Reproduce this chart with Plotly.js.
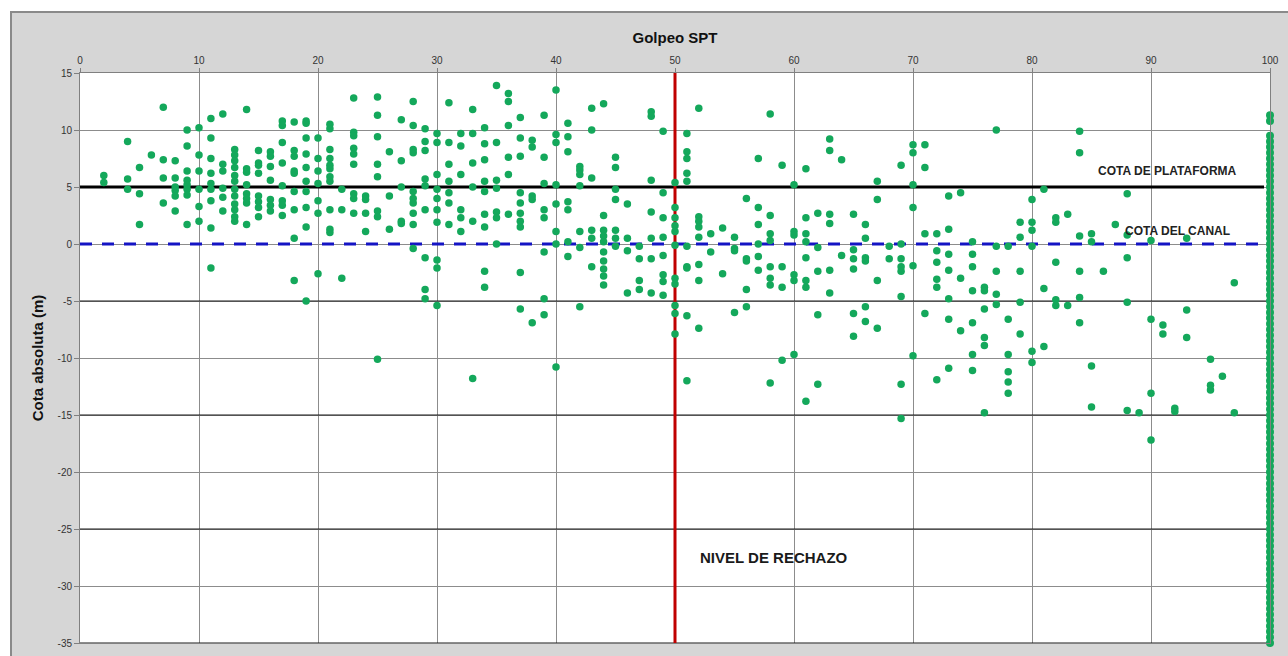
<!DOCTYPE html>
<html>
<head>
<meta charset="utf-8">
<script src="https://cdn.plot.ly/plotly-3.0.1.min.js"></script>
<style>
  html, body { margin:0; padding:0; background:#ffffff; overflow:hidden; }
  #frame { position:absolute; left:10px; top:11px; width:1278px; height:645px;
           background:#d6d6d6; border-left:2px solid #8a8a8a; border-top:2px solid #8a8a8a;
           box-sizing:border-box; }
  #chart { width:1276px; height:643px; }
</style>
</head>
<body>
<div id="frame"><div id="chart"></div></div>
<script>
// Golpeo SPT (x) and cota absoluta in m (y) of each sample, column by column
const golpeo = [
 2,2,
 4,4,4,
 5,5,5,
 6,
 7,7,7,7,
 8,8,8,8,8,8,
 9,9,9,9,9,9,9,9,
 10,10,10,10,10,10,
 11,11,11,11,11,11,11,11,11,
 12,12,12,12,12,12,
 13,13,13,13,13,13,13,13,13,13,13,13,
 14,14,14,14,14,14,14,14,
 15,15,15,15,15,15,15,15,
 16,16,16,16,16,16,16,
 17,17,17,17,17,17,17,17,
 18,18,18,18,18,18,18,18,18,
 19,19,19,19,19,19,19,19,19,19,
 20,20,20,20,20,20,20,
 21,21,21,21,21,21,21,21,21,21,21,
 22,22,22,
 23,23,23,23,23,23,23,23,23,
 24,24,24,24,
 25,25,25,25,25,25,25,25,
 26,26,26,
 27,27,27,27,27,
 28,28,28,28,28,28,28,28,28,28,
 29,29,29,29,29,29,29,29,29,
 30,30,30,30,30,30,30,30,30,30,
 31,31,31,31,31,31,31,
 32,32,32,32,32,32,
 33,33,33,33,33,33,
 34,34,34,34,34,34,34,34,34,
 35,35,35,35,35,35,35,
 36,36,36,36,36,36,
 37,37,37,37,37,37,37,37,37,37,
 38,38,38,38,38,
 39,39,39,39,39,39,39,39,
 40,40,40,40,40,40,40,40,
 41,41,41,41,41,41,41,
 42,42,42,42,42,42,42,
 43,43,43,43,43,43,
 44,44,44,44,44,44,44,44,44,44,
 45,45,45,45,45,45,45,
 46,46,46,46,
 47,47,47,47,
 48,48,48,48,48,48,48,
 49,49,49,49,49,49,49,49,
 50,50,50,50,50,50,50,50,50,50,50,
 51,51,51,51,51,51,51,51,51,51,
 52,52,52,52,52,52,52,52,
 53,53,
 54,54,
 55,55,55,55,
 56,56,56,56,56,
 57,57,57,57,57,57,
 58,58,58,58,58,58,58,58,
 59,59,59,59,
 60,60,60,60,60,60,
 61,61,61,61,61,61,61,61,
 62,62,62,62,62,
 63,63,63,63,63,63,
 64,64,
 65,65,65,65,65,65,
 66,66,66,66,66,66,
 67,67,67,67,
 68,68,
 69,69,69,69,69,69,69,69,
 70,70,70,70,70,70,
 71,71,71,71,
 72,72,72,72,72,72,
 73,73,73,73,73,73,73,
 74,74,74,
 75,75,75,75,75,75,75,
 76,76,76,76,76,76,
 77,77,77,77,77,
 78,78,78,78,78,78,
 79,79,79,79,79,
 80,80,80,80,80,80,
 81,81,81,
 82,82,82,82,82,
 83,83,
 84,84,84,84,84,84,
 85,85,85,85,
 86,
 87,
 88,88,88,88,88,
 89,
 90,90,90,90,
 91,91,
 92,92,
 93,93,93,
 95,95,95,
 96,
 97,97
];
const cota = [
 6.0,5.4,
 9.0,5.7,4.8,
 6.7,4.4,1.7,
 7.8,
 12.0,7.4,5.8,3.6,
 7.3,5.8,5.0,4.7,4.2,2.9,
 10.0,8.6,6.4,5.6,5.2,4.8,4.3,1.7,
 10.2,7.8,6.4,4.8,3.3,2.0,
 11.0,9.3,7.5,6.2,5.3,4.8,3.8,1.4,-2.1,
 11.4,7.0,6.4,4.9,4.1,2.9,
 8.3,7.8,7.3,6.7,6.0,5.5,4.8,4.2,3.5,3.0,2.4,2.0,
 11.8,6.6,6.3,5.2,4.4,4.0,3.6,1.7,
 8.2,7.1,6.9,6.2,4.2,3.7,3.2,2.4,
 8.1,7.7,6.8,5.6,3.9,3.4,2.9,
 10.8,10.4,8.9,7.1,5.1,3.8,3.4,2.5,
 10.7,8.2,7.7,6.4,6.2,4.6,3.0,0.5,-3.2,
 10.8,10.6,9.3,7.9,6.7,5.5,4.6,3.2,1.5,-5.0,
 9.3,7.5,6.4,5.3,3.8,2.7,-2.6,
 10.5,10.1,8.3,7.5,6.9,6.6,5.9,5.5,3.0,1.3,1.0,
 4.8,3.0,-3.0,
 12.8,9.8,9.5,8.4,7.9,7.0,4.4,4.0,2.7,
 4.2,3.9,2.7,1.1,
 12.9,11.3,9.4,7.0,5.9,2.9,2.4,-10.1,
 8.1,4.2,1.3,
 10.9,7.3,5.0,2.0,1.8,
 12.5,10.4,8.3,8.0,4.6,4.0,3.6,2.7,1.7,-0.4,
 10.1,9.0,8.2,5.7,5.1,3.0,-1.2,-4.0,-4.8,
 9.7,8.9,6.1,4.8,4.0,3.0,1.9,-1.4,-2.1,-5.4,
 12.4,8.9,7.0,5.5,4.5,3.6,1.7,
 9.7,8.6,6.1,3.0,2.3,1.1,
 11.8,9.7,7.1,5.0,2.0,-11.8,
 10.2,8.8,7.4,5.5,4.6,2.6,1.5,-2.4,-3.8,
 13.9,8.9,5.6,4.9,2.8,2.3,0.0,
 13.2,12.5,10.4,7.6,6.1,2.6,
 11.1,9.3,7.7,4.5,3.6,2.7,2.0,1.5,-2.5,-5.7,
 9.1,8.5,4.2,3.9,-6.9,
 11.3,7.6,5.3,3.0,2.3,-0.7,-4.8,-6.2,
 13.5,9.6,8.9,5.2,3.5,1.1,0.0,-10.8,
 10.6,9.4,8.1,3.7,3.0,0.2,-1.1,
 6.8,6.5,6.1,5.1,1.1,-0.3,-5.5,
 11.9,10.0,5.8,1.2,0.5,-2.0,
 12.3,2.5,1.2,0.7,0.2,-0.7,-1.5,-2.2,-2.8,-3.6,
 7.6,6.7,4.8,3.9,1.2,0.5,-0.2,
 3.5,0.5,-0.6,-4.3,
 -0.2,-1.3,-3.2,-4.0,
 11.6,11.2,5.6,2.8,0.5,-1.3,-4.3,
 9.9,4.5,2.3,0.6,-1.0,-2.7,-3.3,-4.5,
 5.4,3.2,2.3,1.6,1.1,-0.1,-3.0,-3.5,-5.4,-6.1,-7.9,
 9.7,8.1,7.5,6.2,5.5,-0.2,-2.0,-2.1,-6.3,-12.0,
 11.9,2.4,2.0,1.5,0.6,-1.8,-3.2,-7.4,
 0.9,-0.7,
 1.4,-2.6,
 0.6,-0.4,-0.6,-6.0,
 4.0,-1.3,-1.5,-4.0,-5.5,
 7.5,3.2,1.7,0.0,-1.1,-2.3,
 11.4,2.5,0.9,0.3,-2.0,-3.0,-3.6,-12.2,
 6.9,-2.0,-3.8,-10.2,
 5.2,1.1,0.8,-2.7,-3.2,-9.7,
 6.6,2.3,0.9,0.2,-1.2,-3.2,-3.8,-13.8,
 2.7,-0.3,-2.4,-6.2,-12.3,
 9.2,8.2,2.6,1.8,-2.3,-4.3,
 7.4,-1.0,
 2.6,-0.5,-1.3,-2.2,-6.1,-8.1,
 1.7,0.5,-1.2,-1.5,-5.5,-6.8,
 5.5,3.9,-3.2,-7.4,
 -0.2,-1.3,
 6.9,0.0,-1.3,-2.0,-2.4,-4.6,-12.3,-15.3,
 8.7,8.0,5.2,3.2,-1.9,-9.8,
 8.7,6.7,0.9,-6.1,
 0.9,-0.6,-1.6,-3.1,-3.8,-11.9,
 4.2,1.3,-0.9,-2.3,-4.8,-6.6,-10.9,
 4.5,-3.0,-7.6,
 0.2,-0.9,-2.0,-4.1,-6.9,-9.7,-11.1,
 -3.8,-4.1,-5.7,-8.2,-8.9,-14.8,
 10.0,-0.2,-2.4,-4.4,-5.3,
 -0.2,-6.6,-9.7,-11.2,-12.1,-13.1,
 1.9,0.6,-2.4,-5.1,-7.9,
 3.9,1.9,1.2,-0.2,-9.4,-10.4,
 4.8,-3.9,-9.0,
 2.3,1.9,-1.6,-4.9,-5.4,
 2.6,-5.4,
 9.9,8.0,0.7,-2.4,-4.7,-6.9,
 0.9,0.2,-10.7,-14.3,
 -2.4,
 1.7,
 4.4,0.8,-1.2,-5.1,-14.6,
 -14.8,
 0.3,-6.6,-13.1,-17.2,
 -7.1,-7.9,
 -14.4,-14.7,
 0.5,-5.8,-8.2,
 -10.1,-12.4,-12.8,
 -11.6,
 -3.4,-14.8
];
// Samples with refusal (golpeo 100)
const golpeoRechazo = 100;
const cotaRechazo = [11.3,10.8,9.5,9.0,8.5,8.0,7.5,7.0,6.5,6.0,5.5,5.0,4.5,4.0,3.5,3.0,2.5,2.0,1.5,1.0,0.5,0.0,
 -0.5,-1.0,-1.5,-2.0,-2.5,-3.0,-3.5,-4.0,-4.5,-5.0,-5.5,-6.0,-6.5,-7.0,-7.5,-8.0,-8.5,-9.0,-9.5,-10.0,
 -10.5,-11.0,-11.5,-12.0,-12.5,-13.0,-13.5,-14.0,-14.5,-15.0,-15.5,-16.0,-16.5,-17.0,-17.5,-18.0,-18.5,
 -19.0,-19.5,-20.0,-20.5,-21.0,-21.5,-22.0,-22.5,-23.0,-23.5,-24.0,-24.5,-25.0,-25.5,-26.0,-26.5,-27.0,
 -27.5,-28.0,-28.5,-29.0,-29.5,-30.0,-30.5,-31.0,-31.5,-32.0,-32.5,-33.0,-33.5,-34.0,-34.5,-35.0];

// Axes
const xTicks = [0,10,20,30,40,50,60,70,80,90,100];
const yTicks = [15,10,5,0,-5,-10,-15,-20,-25,-30,-35];
const yTickText = ["15","10","5","0","-5","-10","-15","-20","-25","-30","-35"];
const yDarkGrid = [-5,-15,-25,-35];

// Reference levels
const cotaPlataforma = 5;
const cotaCanal = 0;
const nivelRechazo = 50;

if (golpeo.length !== cota.length) console.error("length mismatch", golpeo.length, cota.length);

const green = '#14a85b';
const FONT = 'Liberation Sans, Arial, sans-serif';

const traces = [
  { type:'scatter', mode:'markers', x:golpeo, y:cota, cliponaxis:false,
    marker:{ color:green, size:7.5 }, hoverinfo:'x+y', showlegend:false },
  { type:'scatter', mode:'markers', x:cotaRechazo.map(() => golpeoRechazo), y:cotaRechazo, cliponaxis:false,
    marker:{ color:green, size:8 }, hoverinfo:'x+y', showlegend:false }
];

const shapes = [];
yDarkGrid.forEach(v => shapes.push({ type:'line', xref:'x', yref:'y', x0:0, x1:100, y0:v, y1:v,
  line:{ color:'#1a1a1a', width:1.2 }, layer:'between' }));
shapes.push({ type:'line', xref:'x', yref:'y', x0:0, x1:99.5, y0:cotaPlataforma, y1:cotaPlataforma,
  line:{ color:'#000000', width:3 }, layer:'between' });
shapes.push({ type:'line', xref:'x', yref:'y', x0:0, x1:99, y0:cotaCanal, y1:cotaCanal,
  line:{ color:'#1414c4', width:3, dash:'12px,10px' }, layer:'between' });
shapes.push({ type:'line', xref:'x', yref:'y', x0:nivelRechazo, x1:nivelRechazo, y0:15, y1:-35,
  line:{ color:'#c00000', width:3 }, layer:'between' });

const layout = {
  width:1276, height:643,
  margin:{ l:68, r:18, t:60, b:13 },
  paper_bgcolor:'rgba(0,0,0,0)',
  plot_bgcolor:'#ffffff',
  font:{ family:FONT, color:'#222' },
  showlegend:false,
  xaxis:{
    side:'top', range:[0,100], tickvals:xTicks, ticktext:xTicks.map(String),
    showgrid:true, gridcolor:'#8c8c8c', gridwidth:1, zeroline:false,
    showline:true, linecolor:'#808080', linewidth:1, mirror:true,
    ticks:'outside', ticklen:4, tickcolor:'#808080',
    tickfont:{ family:FONT, size:10, color:'#333' },
    title:{ text:'<b>Golpeo SPT</b>', font:{ family:FONT, size:15, color:'#111' }, standoff:7 }
  },
  yaxis:{
    range:[-35,15], tickvals:yTicks, ticktext:yTickText,
    showgrid:true, gridcolor:'#8c8c8c', gridwidth:1, zeroline:false,
    showline:true, linecolor:'#808080', linewidth:1, mirror:true,
    ticks:'outside', ticklen:5, tickcolor:'#808080',
    tickfont:{ family:FONT, size:10, color:'#333' },
    title:{ text:'<b>Cota absoluta (m)</b>', font:{ family:FONT, size:15, color:'#111' }, standoff:10 }
  },
  shapes:shapes,
  annotations:[
    { x:91.4, y:6.4, xref:'x', yref:'y', text:'<b>COTA DE PLATAFORMA</b>', showarrow:false,
      font:{ family:FONT, size:12, color:'#222' } },
    { x:92.2, y:1.1, xref:'x', yref:'y', text:'<b>COTA DEL CANAL</b>', showarrow:false,
      font:{ family:FONT, size:12, color:'#222' } },
    { x:58.3, y:-27.5, xref:'x', yref:'y', text:'<b>NIVEL DE RECHAZO</b>', showarrow:false,
      font:{ family:FONT, size:15, color:'#1a1a1a' } }
  ]
};

Plotly.newPlot('chart', traces, layout, { displayModeBar:false, staticPlot:true });
</script>
</body>
</html>
